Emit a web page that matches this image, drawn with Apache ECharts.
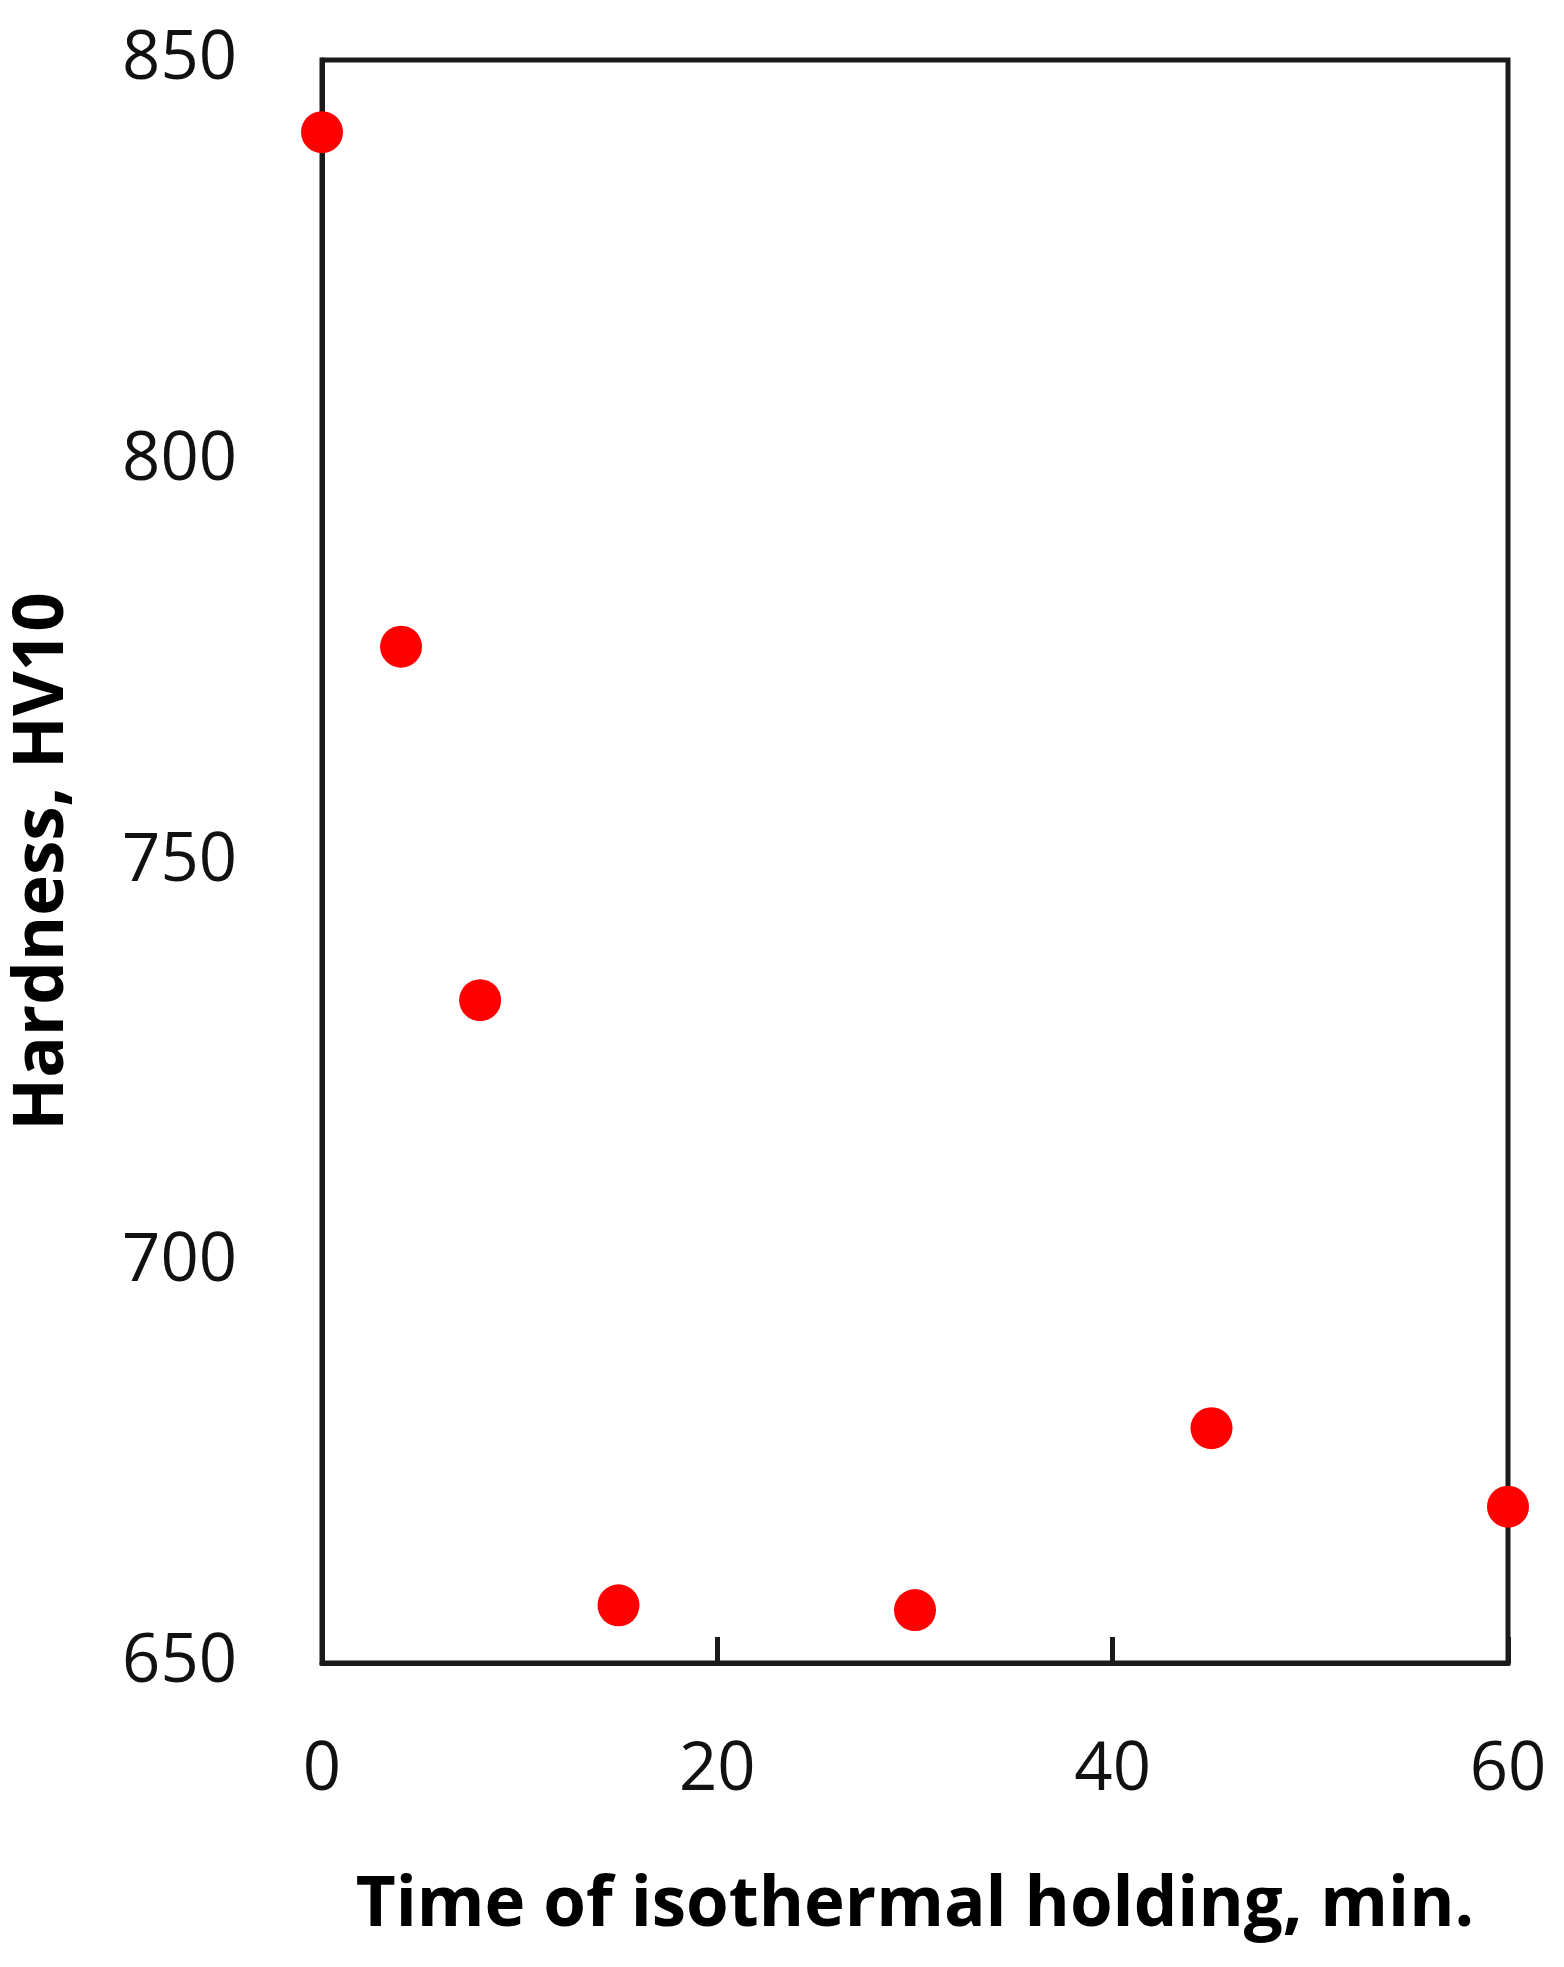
<!DOCTYPE html>
<html>
<head>
<meta charset="utf-8">
<script src="https://cdn.jsdelivr.net/npm/echarts@6/dist/echarts.min.js"></script>
<style>
  html, body { margin: 0; padding: 0; background: #fff; }
  #chart { width: 1564px; height: 1967px; }
</style>
</head>
<body>
<div id="chart"></div>
<script>
// holding time (min) and hardness (HV10)
const holdTime = [0, 4, 8, 15, 30, 45, 60]
const hardness = [841, 776.8, 732.7, 657.2, 656.6, 679.3, 669.5]

const xTicks = [0, 20, 40, 60]
const yTicks = [650, 700, 750, 800, 850]

const myChart = echarts.init(document.getElementById('chart'))

const fontFamily = '"Open Sans", sans-serif'

const option = {
  backgroundColor: '#fff',
  animation: false,
  grid: {
    left: 322,
    right: 56,
    top: 60,
    bottom: 304,
    show: true,
    borderColor: '#1a1a1a',
    borderWidth: 5,
    backgroundColor: 'transparent'
  },
  xAxis: {
    type: 'value',
    min: xTicks[0],
    max: xTicks[xTicks.length - 1],
    interval: 20,
    name: 'Time of isothermal holding, min.',
    nameLocation: 'middle',
    nameGap: 209,
    nameTextStyle: { fontFamily, fontWeight: 'bold', fontSize: 69, color: '#000' },
    axisLine: { show: true, lineStyle: { color: '#1a1a1a', width: 5 } },
    axisTick: { show: true, inside: true, length: 26, lineStyle: { color: '#1a1a1a', width: 5 } },
    axisLabel: { margin: 74, fontFamily, fontSize: 67, color: '#111' },
    splitLine: { show: false }
  },
  yAxis: {
    type: 'value',
    min: yTicks[0],
    max: yTicks[yTicks.length - 1],
    interval: 50,
    name: 'Hardness, HV10',
    nameLocation: 'middle',
    nameGap: 244,
    nameTextStyle: { fontFamily, fontWeight: 'bold', fontSize: 69, color: '#000' },
    axisLine: { show: true, lineStyle: { color: '#1a1a1a', width: 5 } },
    axisTick: { show: false },
    axisLabel: { margin: 85, fontFamily, fontSize: 67, color: '#111' },
    splitLine: { show: false }
  },
  series: [
    {
      type: 'scatter',
      symbol: 'circle',
      symbolSize: 42,
      itemStyle: { color: '#ff0000', opacity: 1 },
      clip: false,
      data: holdTime.map((t, i) => [t, hardness[i]])
    }
  ]
}

myChart.setOption(option)
</script>
</body>
</html>
